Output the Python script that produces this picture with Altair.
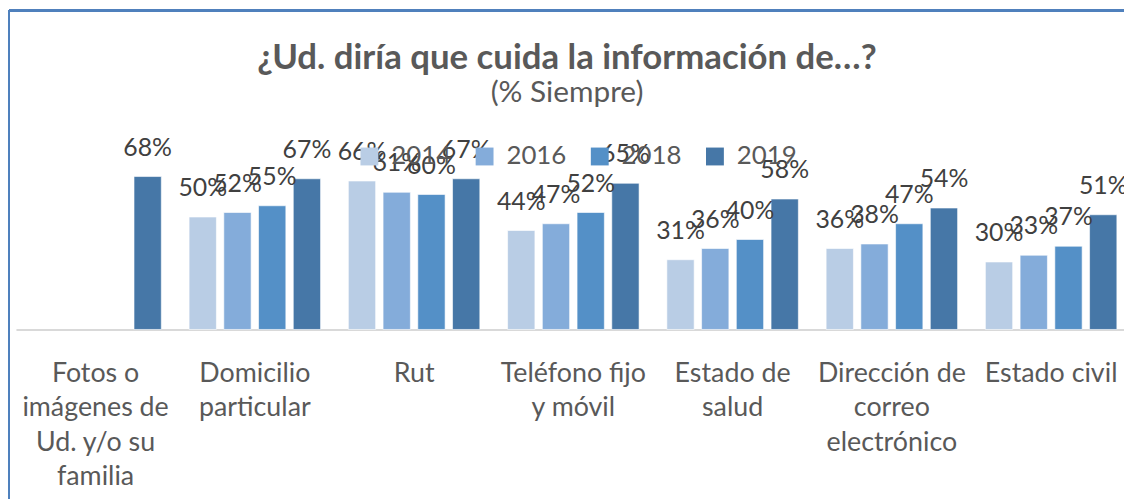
import altair as alt
import pandas as pd

categories = [
    "Fotos o\nimágenes de\nUd. y/o su\nfamilia",
    "Domicilio\nparticular",
    "Rut",
    "Teléfono fijo\ny móvil",
    "Estado de\nsalud",
    "Dirección de\ncorreo\nelectrónico",
    "Estado civil",
]
years = ["2014", "2016", "2018", "2019"]
v2014 = [None, 50, 66, 44, 31, 36, 30]
v2016 = [None, 52, 61, 47, 36, 38, 33]
v2018 = [None, 55, 60, 52, 40, 47, 37]
v2019 = [68, 67, 67, 65, 58, 54, 51]
colors = ["#B9CDE5", "#84ACDA", "#5490C7", "#4677A7"]

rows = []
for yr, vals in zip(years, [v2014, v2016, v2018, v2019]):
    for c, v in zip(categories, vals):
        if v is not None:
            rows.append({"cat": c, "year": yr, "val": v, "lab": f"{v}%"})
df = pd.DataFrame(rows)

W = 1116
H = 181.2
PAD_TOP = 140.8
PAD_LEFT = 8

x_enc = alt.X(
    "cat:N",
    sort=categories,
    scale=alt.Scale(domain=categories, range=[0, 1122.8], paddingInner=0, paddingOuter=0),
    axis=alt.Axis(
        title=None,
        labelAngle=0,
        labelExpr="split(datum.label, '\\n')",
        labelFont="Lato",
        labelFontSize=27,
        labelColor="#595959",
        labelLineHeight=34.8,
        labelPadding=31,
        labelLimit=0,
        ticks=False,
        domainColor="#D9D9D9",
        domainWidth=2,
        grid=False,
    ),
)
xo_enc = alt.XOffset(
    "year:N",
    sort=years,
    scale=alt.Scale(domain=years, paddingInner=0.214, paddingOuter=0.4),
)
y_enc = alt.Y("val:Q", scale=alt.Scale(domain=[0, 80]), axis=None)

base = alt.Chart(df)

bars = base.mark_bar(stroke="white", strokeWidth=1, strokeOpacity=0.6).encode(
    x=x_enc,
    xOffset=xo_enc,
    y=y_enc,
    color=alt.Color(
        "year:N",
        sort=years,
        scale=alt.Scale(domain=years, range=colors),
        legend=alt.Legend(
            orient="none",
            legendX=343,
            legendY=-6,
            direction="horizontal",
            title=None,
            symbolType="square",
            symbolSize=324,
            symbolStrokeWidth=0,
            symbolOpacity=1,
            labelFont="Lato",
            labelFontSize=26,
            labelColor="#595959",
            labelOffset=9,
            columnPadding=20,
        ),
    ),
)

labels = base.mark_text(
    font="Lato", fontSize=25, color="#404040", baseline="alphabetic", dy=-21
).encode(x=x_enc, xOffset=xo_enc, y=y_enc, text="lab:N")

border_top = base.mark_rule(color="#4F81BD", strokeWidth=2).encode(
    x=alt.value(-PAD_LEFT + 1), x2=alt.value(W), y=alt.value(-PAD_TOP + 1)
)
border_left = base.mark_rule(color="#4F81BD", strokeWidth=2).encode(
    x=alt.value(-PAD_LEFT + 1), y=alt.value(-PAD_TOP + 1), y2=alt.value(H + 200)
)

chart = (
    alt.layer(bars, labels, border_top, border_left)
    .properties(
        width=W,
        height=H,
        background="white",
        autosize=alt.AutoSizeParams(type="none"),
        padding={"left": PAD_LEFT, "top": PAD_TOP, "right": 0, "bottom": 491 - PAD_TOP - H},
        title=alt.TitleParams(
            text="¿Ud. diría que cuida la información de…?",
            subtitle="(% Siempre)",
            anchor="middle",
            frame="group",
            dx=-3,
            font="Lato",
            fontSize=35,
            fontWeight="bold",
            color="#595959",
            subtitleFont="Lato",
            subtitleFontSize=30,
            subtitleColor="#595959",
            subtitlePadding=2,
            offset=-99,
        ),
    )
    .configure_view(strokeWidth=0, stroke="transparent")
)

chart.save("out.html", embed_options={"renderer": "svg", "actions": False})
